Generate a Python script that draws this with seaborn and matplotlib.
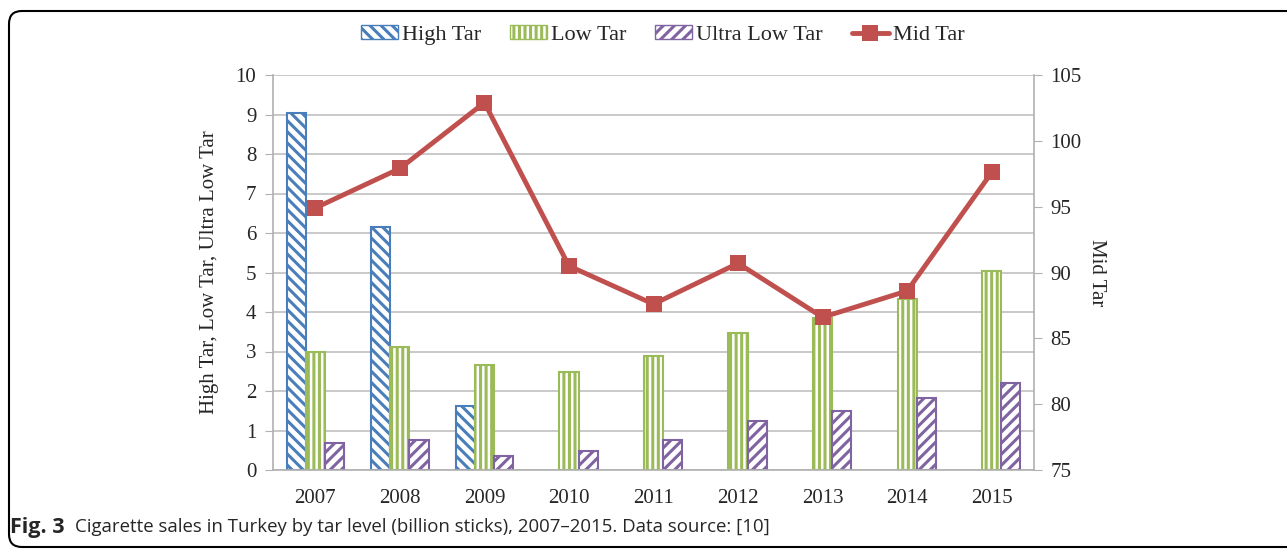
import numpy as np
import pandas as pd
import seaborn as sns
import matplotlib.pyplot as plt
from matplotlib.lines import Line2D
from matplotlib.patches import Patch, FancyBboxPatch

years = ['2007', '2008', '2009', '2010', '2011', '2012', '2013', '2014', '2015']
high_tar = [9.04, 6.15, 1.62, np.nan, np.nan, np.nan, np.nan, np.nan, np.nan]
low_tar = [2.99, 3.11, 2.66, 2.48, 2.89, 3.47, 3.85, 4.34, 5.05]
ultra_low_tar = [0.68, 0.76, 0.35, 0.48, 0.76, 1.24, 1.49, 1.82, 2.2]
mid_tar = [94.9, 97.9, 102.9, 90.5, 87.6, 90.7, 86.6, 88.6, 97.6]

series = ['High Tar', 'Low Tar', 'Ultra Low Tar']
colors = {'High Tar': '#4a7ebb', 'Low Tar': '#9bbb59', 'Ultra Low Tar': '#8064a2'}
edges = {'High Tar': '#4bacc6', 'Low Tar': '#9bbb59', 'Ultra Low Tar': '#8064a2'}
hatches = {'High Tar': '\\\\\\', 'Low Tar': '|||', 'Ultra Low Tar': '///'}
line_color = '#c0504d'

df = pd.DataFrame({'Year': years * 3,
                   'Type': sum([[s] * len(years) for s in series], []),
                   'Value': high_tar + low_tar + ultra_low_tar})

sns.set_style('white')
plt.rcParams['font.family'] = ['Liberation Serif', 'DejaVu Serif']
plt.rcParams['hatch.linewidth'] = 2.2

fig = plt.figure(figsize=(12.87, 5.5), dpi=100)
ax = fig.add_axes([273 / 1287, 1 - 470 / 550, (1034 - 273) / 1287, (470 - 75) / 550])

sns.barplot(data=df, x='Year', y='Value', hue='Type', hue_order=series,
            order=years, width=0.68, gap=0, ax=ax, legend=False,
            palette=colors, saturation=1)

for cont, s in zip(ax.containers, series):
    for bar in cont:
        bar.set_facecolor('white')
        bar.set_edgecolor(colors[s])
        bar.set_hatch(hatches[s])
        bar.set_linewidth(1.5)
        try:
            bar.set_hatchcolor(colors[s])
            bar.set_edgecolor(edges[s])
        except AttributeError:
            pass

ax.set_ylim(0, 10)
ax.set_yticks(range(0, 11))
ax.set_xlim(-0.5, len(years) - 0.5)
ax.yaxis.grid(True, color='#c0c0c0', linewidth=1.2)
ax.set_axisbelow(True)
ax.set_xlabel('')
ax.set_ylabel('High Tar, Low Tar, Ultra Low Tar', fontsize=15, labelpad=12)
ax.set_xticks(np.arange(len(years) + 1) - 0.5, minor=True)
ax.tick_params(axis='x', which='major', length=0, labelsize=15, pad=14)
ax.tick_params(axis='x', which='minor', length=6, color='#b0b0b0', direction='out')
ax.tick_params(axis='y', length=6, color='#b0b0b0', labelsize=15, pad=6, direction='out', left=True)
for side in ['left', 'right', 'bottom']:
    ax.spines[side].set_color('#b0b0b0')
    ax.spines[side].set_linewidth(1.2)
ax.spines['top'].set_visible(False)

ax2 = ax.twinx()
sns.lineplot(x=np.arange(len(years)), y=mid_tar, ax=ax2, color=line_color,
             linewidth=3.5, marker='s', markersize=11, markeredgewidth=0)
ax2.set_ylim(75, 105)
ax2.set_yticks(range(75, 106, 5))
ax2.set_ylabel('Mid Tar', fontsize=15, rotation=270, labelpad=17)
ax2.tick_params(axis='y', length=6, color='#b0b0b0', labelsize=15, pad=6, direction='out', right=True)
for side in ax2.spines:
    ax2.spines[side].set_visible(False)

handles = [Patch(facecolor='white', edgecolor=colors[s], hatch=hatches[s], label=s) for s in series]
handles.append(Line2D([], [], color=line_color, linewidth=3.5, marker='s', markersize=11,
                      markeredgewidth=0, label='Mid Tar'))
fig.legend(handles=handles, loc='center', bbox_to_anchor=(0.515, 0.936), ncol=4,
           frameon=False, fontsize=16, handlelength=1.65, handleheight=0.55,
           handletextpad=0.2, columnspacing=1.3)

cap_y = 1 - 527 / 550
fig.text(0.008, cap_y, 'Fig. 3', fontsize=15.5, va='center', fontweight='bold',
         family='Open Sans')
fig.text(75 / 1287, cap_y, 'Cigarette sales in Turkey by tar level (billion sticks), 2007\u20132015. Data source: [10]',
         fontsize=13.4, va='center', family=['Open Sans', 'DejaVu Sans'])

frame = FancyBboxPatch((9 / 1287, 3 / 550), 1.05, 1 - 14 / 550,
                       boxstyle='round,pad=0,rounding_size=0.01', transform=fig.transFigure,
                       facecolor='none', edgecolor='black', linewidth=1.5,
                       mutation_aspect=1287 / 550)
fig.patches.append(frame)

fig.savefig('out.png', dpi=100)
